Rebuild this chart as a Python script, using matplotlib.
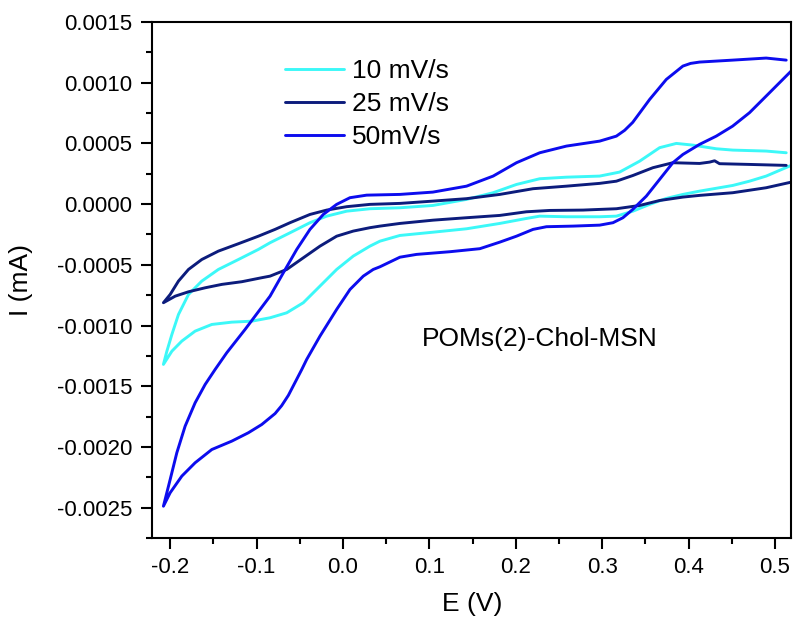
import matplotlib
matplotlib.use('Agg')
import matplotlib.pyplot as plt
from matplotlib.ticker import MultipleLocator, FormatStrFormatter

plt.rcParams['font.family'] = ['Liberation Sans', 'DejaVu Sans']
plt.rcParams['axes.unicode_minus'] = False

# each loop: return branch (right edge -> left vertex), then forward branch (vertex -> right)
# 10 mV/s
E_10 = [0.5187, 0.4898, 0.4705, 0.4512, 0.4127, 0.3934, 0.3742, 0.3549, 0.3356, 0.3164, 0.2971, 0.2586,
        0.2277, 0.2123, 0.1815, 0.1430, 0.1044, 0.0659, 0.0428, 0.0312, 0.0119, -0.0073, -0.0266, -0.0459,
        -0.0651, -0.0844, -0.1055, -0.1287, -0.1518, -0.1711, -0.1865, -0.1980, -0.2078,
        -0.2038, -0.1980, -0.1904, -0.1788, -0.1634, -0.1442, -0.1210, -0.0979, -0.0844, -0.0613, -0.0382,
        -0.0188, 0.0043, 0.0312, 0.0659, 0.1040, 0.1430, 0.1738, 0.2008, 0.2277, 0.2586, 0.2971, 0.3202,
        0.3434, 0.3665, 0.3858, 0.4050, 0.4320, 0.4512, 0.4898, 0.5130]
I_10 = [0.000319, 0.000231, 0.000189, 0.000154, 0.000107, 0.000080, 0.000047, -0.000002, -0.000058,
        -0.000099, -0.000104, -0.000104, -0.000099, -0.000118, -0.000159, -0.000203, -0.000231, -0.000258,
        -0.000305, -0.000346, -0.000428, -0.000538, -0.000675, -0.000812, -0.000895, -0.000936, -0.000964,
        -0.000972, -0.000991, -0.001046, -0.001128, -0.001211, -0.001320,
        -0.001211, -0.001073, -0.000909, -0.000744, -0.000634, -0.000538, -0.000456, -0.000373, -0.000318,
        -0.000236, -0.000153, -0.000099, -0.000058, -0.000038, -0.000030, -0.000011, 0.000039, 0.000094,
        0.000162, 0.000209, 0.000222, 0.000231, 0.000264, 0.000354, 0.000465, 0.000500, 0.000486,
        0.000456, 0.000445, 0.000437, 0.000423]

# 25 mV/s
E_25 = [0.5187, 0.4898, 0.4512, 0.4127, 0.3934, 0.3665, 0.3434, 0.3164, 0.2778, 0.2393, 0.2123, 0.1815,
        0.1430, 0.1044, 0.0659, 0.0428, 0.0312, 0.0119, -0.0073, -0.0266, -0.0459, -0.0651, -0.0844,
        -0.0940, -0.1171, -0.1402, -0.1595, -0.1788, -0.1942, -0.2078,
        -0.2000, -0.1904, -0.1788, -0.1634, -0.1442, -0.1210, -0.0979, -0.0786, -0.0613, -0.0382, -0.0188,
        0.0043, 0.0312, 0.0659, 0.1044, 0.1430, 0.1815, 0.2200, 0.2586, 0.2971, 0.3164, 0.3356, 0.3587,
        0.3818, 0.4127, 0.4243, 0.4301, 0.4358, 0.4705, 0.5130]
I_25 = [0.000181, 0.000135, 0.000094, 0.000072, 0.000058, 0.000030, -0.000011, -0.000038, -0.000049,
        -0.000052, -0.000063, -0.000093, -0.000112, -0.000132, -0.000159, -0.000181, -0.000194, -0.000222,
        -0.000264, -0.000346, -0.000442, -0.000538, -0.000593, -0.000606, -0.000639, -0.000661, -0.000689,
        -0.000722, -0.000758, -0.000812,
        -0.000744, -0.000634, -0.000538, -0.000456, -0.000387, -0.000326, -0.000264, -0.000208, -0.000153,
        -0.000085, -0.000049, -0.000021, -0.000002, 0.000006, 0.000025, 0.000045, 0.000080, 0.000127,
        0.000148, 0.000171, 0.000189, 0.000236, 0.000300, 0.000341, 0.000335, 0.000346, 0.000357,
        0.000333, 0.000327, 0.000319]

# 50 mV/s
E_50 = [0.5187, 0.4898, 0.4705, 0.4509, 0.4320, 0.4127, 0.3934, 0.3818, 0.3665, 0.3511, 0.3353, 0.3240,
        0.3125, 0.2971, 0.2663, 0.2355, 0.2200, 0.2008, 0.1815, 0.1584, 0.1237, 0.0852, 0.0659, 0.0428,
        0.0350, 0.0235, 0.0081, -0.0073, -0.0266, -0.0420, -0.0477, -0.0632, -0.0710, -0.0786, -0.0940,
        -0.1095, -0.1287, -0.1518, -0.1711, -0.1865, -0.2000, -0.2078,
        -0.2000, -0.1923, -0.1827, -0.1711, -0.1595, -0.1480, -0.1345, -0.1133, -0.0844, -0.0690, -0.0535,
        -0.0382, -0.0228, -0.0073, 0.0081, 0.0274, 0.0659, 0.1040, 0.1430, 0.1738, 0.2008, 0.2277,
        0.2586, 0.2971, 0.3164, 0.3260, 0.3353, 0.3549, 0.3742, 0.3934, 0.4023, 0.4127, 0.4509, 0.4898,
        0.5130]
I_50 = [0.001096, 0.000890, 0.000753, 0.000642, 0.000560, 0.000492, 0.000409, 0.000341, 0.000204,
        0.000066, -0.000044, -0.000112, -0.000153, -0.000173, -0.000181, -0.000186, -0.000208, -0.000264,
        -0.000313, -0.000367, -0.000392, -0.000414, -0.000437, -0.000516, -0.000538, -0.000593, -0.000703,
        -0.000867, -0.001087, -0.001279, -0.001362, -0.001575, -0.001660, -0.001725, -0.001815, -0.001883,
        -0.001952, -0.002021, -0.002130, -0.002240, -0.002377, -0.002488,
        -0.002268, -0.002048, -0.001829, -0.001636, -0.001485, -0.001362, -0.001224, -0.001032, -0.000758,
        -0.000565, -0.000373, -0.000208, -0.000085, -0.000002, 0.000053, 0.000074, 0.000080, 0.000099,
        0.000148, 0.000231, 0.000341, 0.000423, 0.000478, 0.000519, 0.000560, 0.000608, 0.000673,
        0.000862, 0.001027, 0.001137, 0.001159, 0.001170, 0.001186, 0.001203, 0.001186]

labels = ['10 mV/s', '25 mV/s', '50mV/s']
colors = ['#3CF8F8', '#0C1C7C', '#0C0CEE']

fig = plt.figure(figsize=(7.93, 6.18), dpi=100)
ax = fig.add_axes([0.1917, 0.1294, 0.8063, 0.835])

for E, I, lab, c in zip([E_10, E_25, E_50], [I_10, I_25, I_50], labels, colors):
    ax.plot(E, I, color=c, lw=2.1, label=lab, solid_joinstyle='round', solid_capstyle='round')

ax.set_xlim(-0.221, 0.519)
ax.set_ylim(-0.00275, 0.0015)

ax.xaxis.set_major_locator(MultipleLocator(0.1))
ax.xaxis.set_minor_locator(MultipleLocator(0.05))
ax.yaxis.set_major_locator(MultipleLocator(0.0005))
ax.yaxis.set_minor_locator(MultipleLocator(0.00025))
ax.xaxis.set_major_formatter(FormatStrFormatter('%.1f'))
ax.yaxis.set_major_formatter(FormatStrFormatter('%.4f'))

ax.tick_params(which='both', direction='out', width=1.5, top=False, right=False, labelsize=16, pad=6)
ax.tick_params(which='major', length=8)
ax.tick_params(which='minor', length=4)
for s in ax.spines.values():
    s.set_linewidth(1.5)

ax.set_xlabel('E (V)', fontsize=19, labelpad=10)
ax.set_ylabel('I (mA)', fontsize=19, labelpad=17)

ax.legend(loc='upper left', bbox_to_anchor=(0.1915, 0.949), frameon=False, fontsize=19,
          handlelength=2.25, handletextpad=0.3, labelspacing=0.35, borderaxespad=0)

ax.text(0.091, -0.00111, 'POMs(2)-Chol-MSN', fontsize=19, va='center', ha='left')

plt.savefig('out.png', dpi=100)
